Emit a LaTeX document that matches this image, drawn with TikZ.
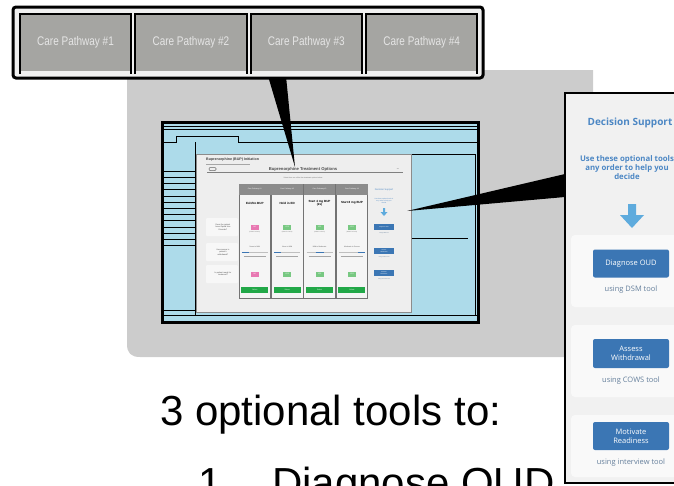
\documentclass[tikz,border=0pt]{standalone}
\usepackage{fontspec}
\setmainfont{Liberation Sans}
\newfontfamily\uifont{Open Sans}
\usepackage{tikz}
\usetikzlibrary{positioning}

\definecolor{panelgray}{RGB}{204,204,204}
\definecolor{tabgray}{RGB}{165,165,162}
\definecolor{screenblue}{RGB}{173,219,234}
\definecolor{dsblue}{RGB}{76,135,196}
\definecolor{btnblue}{RGB}{59,118,180}
\definecolor{arrowblue}{RGB}{94,171,221}
\definecolor{usegray}{RGB}{102,128,156}
\definecolor{sidebg}{RGB}{241,241,241}
\definecolor{winbg}{RGB}{238,238,238}
\definecolor{colhead}{RGB}{140,140,140}
\definecolor{yesgreen}{RGB}{120,200,130}
\definecolor{nopink}{RGB}{232,120,178}
\definecolor{selgreen}{RGB}{34,168,72}

\begin{document}
\begin{tikzpicture}[x=1pt,y=-1pt,
		tab/.style={fill=tabgray,minimum width=111pt,minimum height=57pt,inner sep=0pt,text=white!90!black,font=\fontsize{12.5}{13}\selectfont},
		tabline/.style={line width=2pt},
		dsbtn/.style={fill=btnblue,rounded corners=2pt,minimum width=76pt,inner sep=0pt,text=white,align=center,font=\uifont\fontsize{7.5}{9}\selectfont},
		dsuse/.style={inner sep=0pt,text=usegray,font=\uifont\fontsize{7.5}{9}\selectfont},
		mini/.style={inner sep=0pt,align=center,font=\fontsize{2}{2.4}\selectfont},
		minicol/.style={draw=black!55,line width=0.8pt,fill=white!96!black,minimum width=31.5pt,minimum height=114pt,inner sep=0pt},
		minibadge/.style={inner sep=0pt,minimum width=8pt,minimum height=5pt,text=white,font=\fontsize{1.8}{2}\selectfont},
		minibtn/.style={fill=btnblue,minimum width=20pt,minimum height=6.5pt,inner sep=0pt,text=white,align=center,font=\fontsize{1.4}{1.6}\selectfont},
		bigtext/.style={inner sep=0pt,anchor=base west,font=\fontsize{42}{50}\selectfont}
	]
	\useasboundingbox (0,0) rectangle (674,485);
	\clip (0,0) rectangle (674,485);
	%gray panel
	\fill[panelgray] (127,70) -- (593,70) -- (593,357) -- (140,357) .. controls (131,357) and (127,353) .. (127,344) -- cycle;
	%monitor
	\draw[line width=3pt,fill=screenblue] (162,122) rectangle (478,322);
	\draw[thin] (162,126) -- (478,126) (162,129) -- (478,129);
	\draw[thin] (162,142) -- (176,142) -- (176,136) -- (238,136) -- (238,142) -- (478,142);
	\foreach \k in {0,...,12}
		\draw[thin] (162,171+6.2*\k) -- (195,171+6.2*\k);
	\draw[thin] (195,142) -- (195,315) (162,310) -- (195,310) (162,315) -- (478,315);
	\draw[thin] (411,154) -- (475,154) -- (475,315);
	\draw[thin] (411,238) -- (468,238);
	%screenshot window
	\draw[black!45,line width=0.8pt,fill=winbg] (196,154) rectangle (411,312);
	\node[mini,anchor=west,font=\fontsize{3.6}{4}\bfseries\selectfont,text=black!75] (wintitle) at (206,160) {Buprenorphine (BUP) Initiation};
	\draw[black!35,line width=0.6pt] (206,164) -- (250,164);
	\draw[black!60,line width=0.5pt,rounded corners=1pt] (209,167.5) rectangle (216,170.5);
	\node[mini,font=\fontsize{4.2}{5}\bfseries\selectfont,text=black!70] (wintopts) at (303,169) {Buprenorphine Treatment Options};
	\node[mini,text=black!60] at (398,169) {•••};
	\draw[black!50,line width=0.5pt] (207,172) -- (403,172);
	\node[mini,font=\fontsize{1.7}{2}\selectfont,text=black!60] at (303,178) {Select from one of the four treatment options below};
	%question rows
	\foreach \y/\q in {227/{Does the patient\\have Opioid Use\\Disorder?},252/{How severe is\\patient's\\withdrawal?},274/{Is patient ready for\\treatment?}}{
		\fill[white!55!winbg,rounded corners=1pt] (206,\y-9) rectangle (238,\y+9);
		\node[mini,text=black!70] at (223,\y) {\q};
	}
	%pathway columns
	\foreach \i/\name/\badge/\yn/\sa/\sb/\sev in {1/Exit\slash No BUP/nopink/NO/-13/-6/None to Mild,2/Hold in ED/yesgreen/YES/-13/-6/None to Mild,3/{Start 4 mg BUP\\(2x)}/yesgreen/YES/-4/4/Mild to Moderate,4/Start 8 mg BUP/yesgreen/YES/6/13/Moderate to Severe}{
		\pgfmathsetmacro{\xc}{254.75+32.4*(\i-1)}
		\node[minicol] (col\i) at (\xc,241) {};
		\fill[colhead] ([shift={(0.4pt,-0.4pt)}]col\i.north west) rectangle ([shift={(-0.4pt,-11pt)}]col\i.north east);
		\node[mini,text=white,font=\fontsize{1.8}{2}\selectfont] at (\xc,189.5) {Care Pathway \#\i};
		\node[mini,font=\fontsize{3}{3.4}\bfseries\selectfont] at (\xc,203) {\name};
		\node[minibadge,fill=\badge] (yn\i) at (\xc,227) {\yn};
		\node[mini,text=black!55,font=\fontsize{1.5}{1.8}\selectfont] at (\xc,232.5) {(DSM-5 criteria)};
		\node[mini,text=black!65,font=\fontsize{1.8}{2}\selectfont] at (\xc,247) {\sev};
		\draw[black!25,line width=0.6pt] (\xc-13,252) -- (\xc+13,252);
		\draw[btnblue,line width=1pt] (\xc+\sa,252) -- (\xc+\sb,252);
		\draw[black!35,line width=0.4pt] (\xc-11,256.5) -- (\xc+11,256.5);
		\node[minibadge,fill=\badge] (ready\i) at (\xc,274) {\yn};
		\node[minibadge,fill=selgreen,minimum width=27pt,minimum height=6pt] (sel\i) at (\xc,290) {Select};
	}
	%mini decision support
	\node[mini,text=dsblue,font=\fontsize{2.4}{2.8}\selectfont] (minids) at (384,190) {Decision Support};
	\node[mini,text=dsblue,font=\fontsize{1.6}{1.9}\selectfont] at (384,201) {Use these optional tools in\\any order to help you\\decide};
	\fill[arrowblue] (383,208) -- (385,208) -- (385,212) -- (387.5,212) -- (384,216) -- (380.5,212) -- (383,212) -- cycle;
	\foreach \y/\b/\u in {227/{Diagnose OUD}/{using DSM tool},251/{Assess\\Withdrawal}/{using COWS tool},273/{Motivate\\Readiness}/{using interview tool}}{
		\node[minibtn] at (384,\y) {\b};
		\node[mini,text=usegray,font=\fontsize{1.4}{1.6}\selectfont] at (384,\y+6) {\u};
	}
	%callout wedges
	\coordinate (tipa) at (295,167);
	\coordinate (tipb) at (407,211);
	\fill[black] (268,76) -- (286,76) -- (tipa) -- cycle;
	%banner with the four pathways
	\draw[line width=3pt,rounded corners=3pt,fill=white!94!black] (13,7) rectangle (483,78);
	\node[tab] (tab1) at (75.5,42.5) {\scalebox{0.8}[1]{Care Pathway \#1}};
	\node[tab,right=4pt of tab1] (tab2) {\scalebox{0.8}[1]{Care Pathway \#2}};
	\node[tab,right=4pt of tab2] (tab3) {\scalebox{0.8}[1]{Care Pathway \#3}};
	\node[tab,right=4pt of tab3] (tab4) {\scalebox{0.8}[1]{Care Pathway \#4}};
	\foreach \i in {1,...,4}
		\draw[tabline] ([yshift=-3pt]tab\i.south west) -- (tab\i.north west) -- (tab\i.north east) -- ([yshift=-3pt]tab\i.south east);
	%decision support panel
	\draw[line width=2.5pt,fill=sidebg] (700,93) -- (565,93) -- (565,483) -- (700,483);
	\fill[black] (565,174) -- (565,197) -- (tipb) -- cycle;
	\foreach \ya/\yb in {235/307,325/397,415/477}
		\fill[white!55!sidebg,rounded corners=4pt] (571,\ya) rectangle (700,\yb);
	\node[inner sep=0pt,text=dsblue,font=\uifont\bfseries\fontsize{10}{12}\selectfont] (dstitle) at (630,123) {Decision Support};
	\node[inner sep=0pt,text=dsblue,align=center,font=\uifont\bfseries\fontsize{7.8}{9}\selectfont] (dsnote) at (627,168) {Use these optional tools\\any order to help you\\decide};
	\fill[arrowblue] (628,204) -- (636,204) -- (636,215) -- (644,215) -- (632,228) -- (620,215) -- (628,215) -- cycle;
	\node[dsbtn,minimum height=28pt] (diag) at (631,263.5) {Diagnose OUD};
	\node[dsuse,below=8pt of diag] (diaguse) {using DSM tool};
	\node[dsbtn,minimum height=29pt] (assess) at (631,353.5) {Assess\\Withdrawal};
	\node[dsuse,below=8pt of assess] (assessuse) {using COWS tool};
	\node[dsbtn,minimum height=28pt] (motiv) at (631,436) {Motivate\\Readiness};
	\node[dsuse,below=8pt of motiv] (motivuse) {using interview tool};
	%list of the tools
	\node[bigtext] (tools) at (160,425) {3 optional tools to:};
	\node[bigtext] (item) at (198,497) {1};
	\node[bigtext] (itemtext) at (272,497) {Diagnose OUD};
\end{tikzpicture}
\end{document}
